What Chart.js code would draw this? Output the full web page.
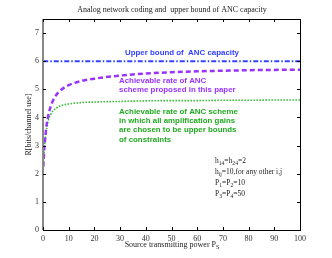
<!DOCTYPE html>
<html><head><meta charset="utf-8">
<script src="https://cdn.jsdelivr.net/npm/chart.js@4"></script>
<style>html,body{margin:0;padding:0;background:#fff}#wrap{width:332px;height:258px;position:relative}</style>
</head><body><div id="wrap"><canvas id="c" width="332" height="258"></canvas></div>
<script>
const powerPS = [0.1, 0.5, 1, 1.5, 2, 3, 4, 5, 7, 10, 15, 20, 30, 40, 50, 60, 70, 80, 90, 100];
const upperBound = [6, 6, 6, 6, 6, 6, 6, 6, 6, 6, 6, 6, 6, 6, 6, 6, 6, 6, 6, 6];
const proposedRate = [2.25, 2.9, 3.4, 3.8, 4.05, 4.4, 4.62, 4.78, 4.98, 5.15, 5.3, 5.38, 5.49, 5.56, 5.61, 5.64, 5.66, 5.68, 5.69, 5.7];
const upperGainRate = [2.2, 2.9, 3.35, 3.65, 3.88, 4.1, 4.24, 4.32, 4.42, 4.48, 4.53, 4.55, 4.57, 4.59, 4.6, 4.6, 4.61, 4.61, 4.62, 4.62];
const xTicks = [0, 10, 20, 30, 40, 50, 60, 70, 80, 90, 100];
const yTicks = [0, 1, 2, 3, 4, 5, 6, 7];
const chartTitle = "Analog network coding and  upper bound of ANC capacity";
const xTitle = ["Source transmitting power P", "S"];
const yTitle = "R[bits/channel use]";
const noteUpper = ["Upper bound of  ANC capacity"];
const noteProposed = ["Achievable rate of ANC", "scheme proposed in this paper"];
const noteGain = ["Achievable rate of ANC scheme", "in which all amplification gains", "are chosen to be upper bounds", "of constraints"];

const pts = (ys) => powerPS.map((x, i) => ({x, y: ys[i]}));
const SERIF = '"Liberation Serif", "DejaVu Serif", serif';
const SANS = '"Liberation Sans", Arial, sans-serif';

function subText(ctx, parts, x, y, size) {
  let cx = x;
  for (const [t, sub] of parts) {
    ctx.font = (sub ? size * 0.75 : size) + 'px ' + SERIF;
    ctx.fillText(t, cx, sub ? y + size * 0.35 : y);
    cx += ctx.measureText(t).width;
  }
}

const decor = {
  id: 'decor',
  afterDraw(chart) {
    const {ctx, chartArea: a, scales: {x, y}} = chart;
    ctx.save();
    ctx.strokeStyle = '#000';
    ctx.lineWidth = 1;
    ctx.strokeRect(Math.round(a.left) + 0.5, Math.round(a.top) + 0.5, Math.round(a.right - a.left), Math.round(a.bottom - a.top));
    ctx.strokeStyle = '#888';
    ctx.lineWidth = 2;
    ctx.beginPath(); ctx.moveTo(a.left, a.top); ctx.lineTo(a.left, a.bottom); ctx.stroke();
    ctx.strokeStyle = '#000'; ctx.lineWidth = 1;
    ctx.beginPath();
    for (const v of xTicks) {
      const px = Math.round(x.getPixelForValue(v)) + 0.5;
      ctx.moveTo(px, a.bottom); ctx.lineTo(px, a.bottom - 3);
      ctx.moveTo(px, a.top); ctx.lineTo(px, a.top + 3);
    }
    for (const v of yTicks) {
      const py = Math.round(y.getPixelForValue(v)) + 0.5;
      ctx.moveTo(a.left, py); ctx.lineTo(a.left + 3, py);
      ctx.moveTo(a.right, py); ctx.lineTo(a.right - 3, py);
    }
    ctx.stroke();
    ctx.fillStyle = '#222';
    ctx.font = '8px ' + SERIF;
    ctx.textAlign = 'center'; ctx.textBaseline = 'middle';
    ctx.fillText(chartTitle, 172, 10);
    ctx.textAlign = 'left';
    ctx.font = '8px ' + SERIF;
    const w1 = ctx.measureText(xTitle[0]).width;
    ctx.font = '6px ' + SERIF;
    const w2 = ctx.measureText(xTitle[1]).width;
    subText(ctx, [[xTitle[0], false], [xTitle[1], true]], 172 - (w1 + w2) / 2, 245, 8);
    ctx.save();
    ctx.translate(29, (a.top + a.bottom) / 2);
    ctx.rotate(-Math.PI / 2);
    ctx.textAlign = 'center';
    ctx.font = '8px ' + SERIF;
    ctx.fillText(yTitle, 0, 0);
    ctx.restore();
    ctx.textAlign = 'left';
    ctx.font = 'bold 7.9px ' + SANS;
    ctx.fillStyle = '#3340ff';
    ctx.fillText(noteUpper[0], 125, 52.5);
    ctx.fillStyle = '#9933ff';
    noteProposed.forEach((t, i) => ctx.fillText(t, 119, 81 + i * 9.3));
    ctx.fillStyle = '#22aa22';
    noteGain.forEach((t, i) => ctx.fillText(t, 119, 111.5 + i * 9.3));
    ctx.fillStyle = '#222';
    const L = 215;
    subText(ctx, [['h', 0], ['14', 1], ['=h', 0], ['24', 1], ['=2', 0]], L, 161, 7.5);
    subText(ctx, [['h', 0], ['ij', 1], ['=10,for any other i,j', 0]], L, 172, 7.5);
    subText(ctx, [['P', 0], ['1', 1], ['=P', 0], ['2', 1], ['=10', 0]], L, 183, 7.5);
    subText(ctx, [['P', 0], ['3', 1], ['=P', 0], ['4', 1], ['=50', 0]], L, 194, 7.5);
    ctx.restore();
  }
};

new Chart(document.getElementById('c'), {
  type: 'line',
  data: {
    datasets: [
      {label: 'Upper bound of ANC capacity', data: pts(upperBound), borderColor: '#3344ff', borderWidth: 2, borderDash: [5, 2, 1.5, 2], pointRadius: 0, fill: false},
      {label: 'Proposed ANC scheme', data: pts(proposedRate), borderColor: '#9933ff', borderWidth: 2.5, borderDash: [5, 3], pointRadius: 0, fill: false, cubicInterpolationMode: 'monotone'},
      {label: 'Upper-bound gains ANC', data: pts(upperGainRate), borderColor: '#33bb33', borderWidth: 1.6, borderDash: [1.5, 1.5], pointRadius: 0, fill: false, cubicInterpolationMode: 'monotone'}
    ]
  },
  options: {
    responsive: false, animation: false, devicePixelRatio: 1,
    layout: {padding: {left: 0, right: 32, top: 19, bottom: 0}},
    plugins: {legend: {display: false}, title: {display: false}, tooltip: {enabled: false}},
    scales: {
      x: {type: 'linear', min: 0, max: 100,
        afterFit: s => { s.height = 28; },
        afterBuildTicks: s => { s.ticks = xTicks.map(v => ({value: v})); },
        grid: {display: false, drawTicks: false}, border: {display: false},
        ticks: {padding: 4, color: '#333', font: {family: SERIF, size: 8}, maxRotation: 0}},
      y: {type: 'linear', min: 0, max: 7.5,
        afterFit: s => { s.width = 43; },
        afterBuildTicks: s => { s.ticks = yTicks.map(v => ({value: v})); },
        grid: {display: false, drawTicks: false}, border: {display: false},
        ticks: {padding: 4, color: '#333', font: {family: SERIF, size: 8}}}
    }
  },
  plugins: [decor]
});
</script></body></html>
